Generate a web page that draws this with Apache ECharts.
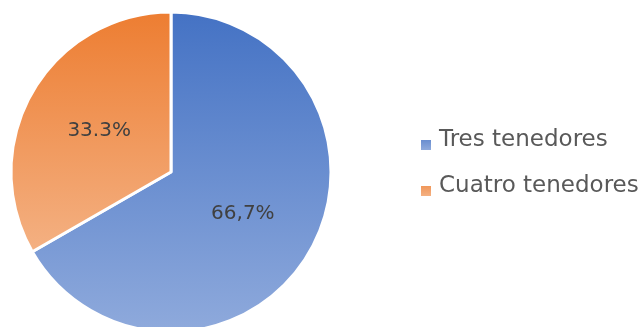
<!DOCTYPE html>
<html>
<head>
<meta charset="utf-8">
<style>
  html, body { margin: 0; padding: 0; background: #ffffff; }
  #chart { width: 640px; height: 327px; }
</style>
<script src="https://cdn.jsdelivr.net/npm/echarts@6/dist/echarts.min.js"></script>
</head>
<body>
<div id="chart"></div>
<script>
// Share of restaurants by category
const categories = ['Tres tenedores', 'Cuatro tenedores'];
const values = [66.7, 33.3];
const valueLabels = ['66,7%', '33.3%'];

// Top and bottom colours of each slice's vertical gradient
const topColors = ['#4472C4', '#ED7D31'];
const bottomColors = ['#8FAADC', '#F4B183'];

// Legend swatch: a square sitting in the lower half of its box,
// so it lines up with the text baseline rather than its middle
const swatchIcon = 'path://M0,0L10,0L10,0Z M0,10L10,10L10,20L0,20Z';

const chart = echarts.init(document.getElementById('chart'), null, { renderer: 'canvas' });

const data = categories.map((name, i) => ({
  name: name,
  value: values[i],
  label: { formatter: valueLabels[i] },
  itemStyle: {
    color: new echarts.graphic.LinearGradient(0, 0, 0, 1, [
      { offset: 0, color: topColors[i] },
      { offset: 1, color: bottomColors[i] }
    ])
  }
}));

chart.setOption({
  animation: false,
  legend: {
    orient: 'vertical',
    left: 416,
    top: 123,
    icon: swatchIcon,
    itemWidth: 10,
    itemHeight: 20,
    itemGap: 22,
    itemStyle: { borderWidth: 0 },
    textStyle: {
      fontFamily: 'DejaVu Sans',
      fontSize: 23,
      lineHeight: 24,
      color: '#595959',
      padding: [0, 0, 0, 3]
    },
    data: categories
  },
  series: [{
    type: 'pie',
    center: [171, 172],
    radius: [0, 160],
    startAngle: 90,
    clockwise: true,
    avoidLabelOverlap: false,
    label: {
      show: true,
      position: 'inside',
      fontFamily: 'DejaVu Sans',
      fontSize: 20,
      color: '#404040'
    },
    labelLine: { show: false },
    itemStyle: { borderColor: '#ffffff', borderWidth: 3 },
    emphasis: { disabled: true },
    data: data
  }]
});
</script>
</body>
</html>
